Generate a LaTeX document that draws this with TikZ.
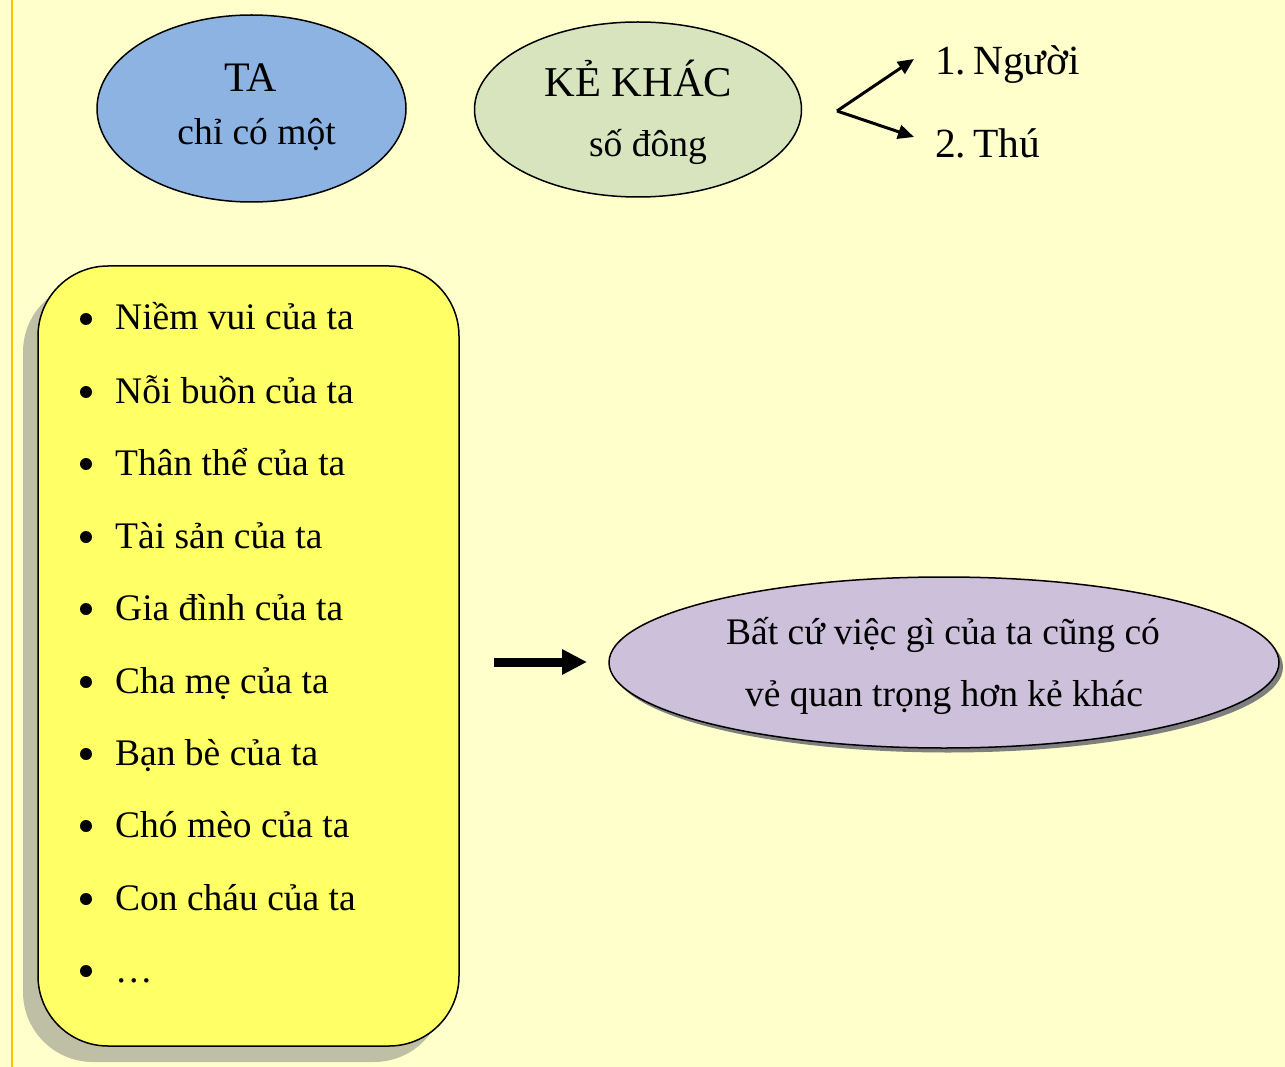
\documentclass[tikz,border=0pt]{standalone}
\usepackage{fontspec}
\setmainfont{Liberation Serif}
\usetikzlibrary{shapes.geometric,arrows.meta}
\definecolor{bgc}{HTML}{FFFFCC}
\definecolor{edgeorange}{HTML}{FFC000}
\definecolor{tablue}{HTML}{8DB3E2}
\definecolor{kkgreen}{HTML}{D7E4BD}
\definecolor{boxyellow}{HTML}{FFFF66}
\definecolor{boxshadow}{HTML}{BFBFA6}
\definecolor{lilac}{HTML}{CCC0DA}
\definecolor{ellshadow}{HTML}{7F7F7F}
\newcommand\fsz[1]{\fontsize{#1}{#1}\selectfont}
\tikzset{
  ellbox/.style={ellipse, draw=black, line width=1.5pt, inner sep=0pt},
  txt/.style={anchor=base, inner sep=0pt},
  itemtxt/.style={anchor=base west, inner sep=0pt, font=\fsz{37.5}},
  bulletdot/.style={circle, fill=black, inner sep=0pt, minimum size=12pt},
  thinarrow/.style={line width=3pt, -{Triangle[length=16pt,width=14pt]}},
  fatarrow/.style={line width=9pt, -{Triangle[length=25pt,width=24pt]}},
}
\begin{document}
\begin{tikzpicture}[x=1pt,y=-1pt]
\useasboundingbox (0,0) rectangle (1285,1067);
\fill[bgc] (0,0) rectangle (1285,1067);
\draw[edgeorange, line width=2.5pt] (12,0) -- (12,1067);

% top ellipses
\node[ellbox, fill=tablue, minimum width=309pt, minimum height=187pt] (ta) at (251.5,108.5) {};
\node[txt, font=\fsz{42}] (tat) at (251,92) {TA};
\node[txt, font=\fsz{37.5}] (tas) at (256.5,145) {chỉ có một};

\node[ellbox, fill=kkgreen, minimum width=327pt, minimum height=175pt] (kk) at (638,109.5) {};
\node[txt, font=\fsz{42.5}] (kkt) at (638.5,97) {KẺ KHÁC};
\node[txt, font=\fsz{37.5}] (kks) at (648,157) {số đông};

\coordinate (v) at (837,111);
\coordinate (t1) at (914,59);
\coordinate (t2) at (914,137);
\draw[thinarrow] (v) -- (t1);
\draw[thinarrow] (v) -- (t2);
\node[anchor=base west, inner sep=0pt, font=\fsz{41.5}] (n1) at (935,75) {1.\,Người};
\node[anchor=base west, inner sep=0pt, font=\fsz{41.5}] (n2) at (935,158) {2.\,Thú};

% list box
\fill[boxshadow, rounded corners=70pt] (23,282) rectangle (444,1062);
\draw[black, line width=1.5pt, fill=boxyellow, rounded corners=70pt] (38,266) rectangle (459,1046);
\foreach \i/\yy/\t in {1/330/{Niềm vui của ta},2/403/{Nỗi buồn của ta},3/475/{Thân thể của ta},4/548/{Tài sản của ta},5/620/{Gia đình của ta},6/693/{Cha mẹ của ta},7/765/{Bạn bè của ta},8/837/{Chó mèo của ta},9/910/{Con cháu của ta},10/982/{…}}{
  \node[bulletdot] (b\i) at (86,\yy-11) {};
  \node[itemtxt] (li\i) at (115,\yy) {\t};
}

% big arrow
\coordinate (a1) at (494,662);
\coordinate (a2) at (587,662);
\draw[fatarrow] (a1) -- (a2);

% purple ellipse
\node[ellipse, fill=ellshadow, inner sep=0pt, minimum width=670pt, minimum height=171pt] (pesh) at (948,667) {};
\node[ellbox, fill=lilac, minimum width=670pt, minimum height=171pt] (pe) at (944,662.5) {};
\node[txt, font=\fsz{37.5}] (p1) at (943,644) {Bất cứ việc gì của ta cũng có};
\node[txt, font=\fsz{37.5}] (p2) at (944,706) {vẻ quan trọng hơn kẻ khác};
\end{tikzpicture}
\end{document}
